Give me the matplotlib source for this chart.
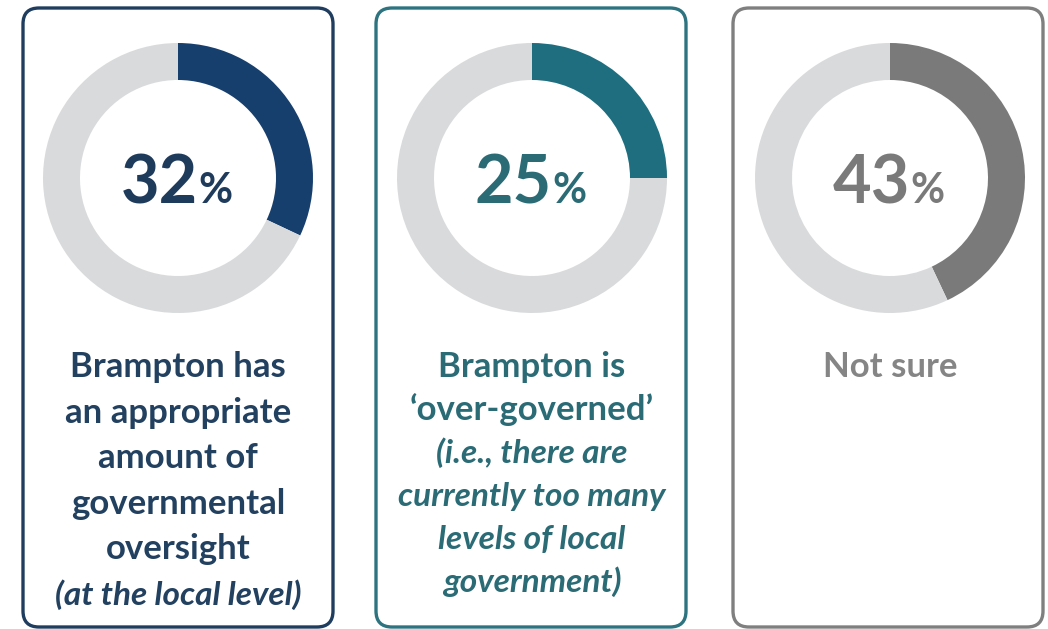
import matplotlib
matplotlib.use("Agg")
import matplotlib.pyplot as plt
from matplotlib.patches import FancyBboxPatch

plt.rcParams['font.family'] = ['Lato', 'DejaVu Sans']

# values
shares = [32, 25, 43]
label_lines = [
    ["Brampton has", "an appropriate", "amount of", "governmental", "oversight",
     "(at the local level)"],
    ["Brampton is", "\u2018over-governed\u2019", "(i.e., there are",
     "currently too many", "levels of local", "government)"],
    ["Not sure"],
]
n_upright = [5, 2, 1]

ring_colors = ["#173f6d", "#1e6e7f", "#7a7a7a"]
text_colors = ["#1f3b5c", "#2a6b76", "#7a7a7a"]
label_colors = ["#22405f", "#2a6b76", "#858585"]
box_colors = ["#1f3d5f", "#2d7480", "#7f7f7f"]
rest_color = "#d9dadc"

W, H = 1048, 629
fig = plt.figure(figsize=(W / 100, H / 100), dpi=100)
ax = fig.add_axes([0, 0, 1, 1])
ax.set_xlim(0, W)
ax.set_ylim(0, H)
ax.set_aspect('equal')
ax.axis('off')

box_left = [23, 376, 733]
box_w = 310
centers = [178, 532, 890]
cy = H - 178
line_gap = [45.6, 43.0, 45.0]

for i, share in enumerate(shares):
    bx = FancyBboxPatch((box_left[i], 2), box_w, H - 10,
                        boxstyle="round,pad=0,rounding_size=16",
                        fc="white", ec=box_colors[i], lw=2.4, zorder=1)
    ax.add_patch(bx)

    ax.pie([share, 100 - share], center=(centers[i], cy), radius=135,
           startangle=90, counterclock=False,
           colors=[ring_colors[i], rest_color],
           wedgeprops=dict(width=37, linewidth=0))

    ax.text(centers[i] + 20, H - 203, str(share), ha='right', va='baseline',
            fontsize=48, fontweight='bold', color=text_colors[i], zorder=5)
    ax.text(centers[i] + 20, H - 203, "%", ha='left', va='baseline',
            fontsize=30, fontweight='bold', color=text_colors[i], zorder=5)

    for k, line in enumerate(label_lines[i]):
        upright = k < n_upright[i]
        ax.text(centers[i], H - 377 - k * line_gap[i], line, ha='center',
                va='baseline', fontsize=25 if upright else 24, fontweight='bold',
                fontstyle='normal' if upright else 'italic',
                color=label_colors[i], zorder=5)

# pie() resets the limits, put them back
ax.set_xlim(0, W)
ax.set_ylim(0, H)

fig.savefig("out.png", dpi=100)
